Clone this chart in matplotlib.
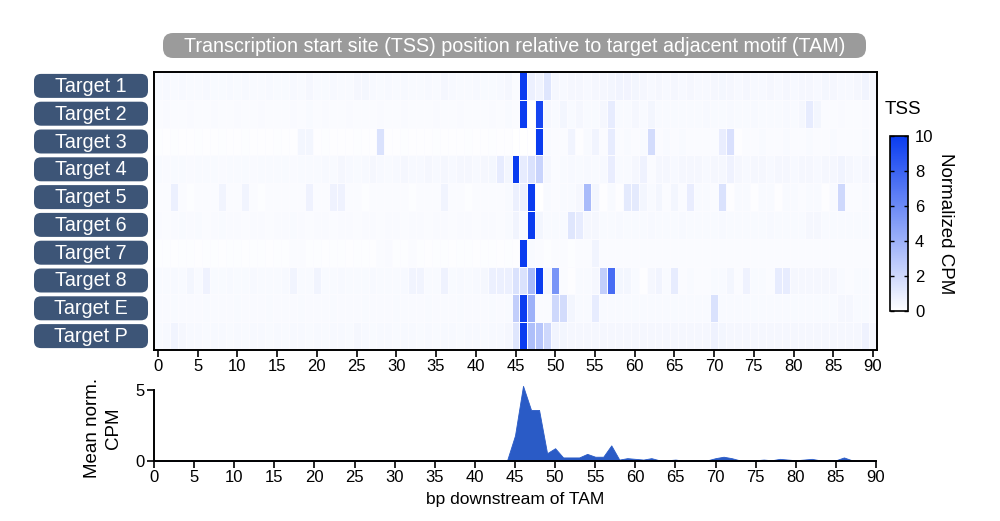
import matplotlib
matplotlib.use("Agg")
import matplotlib.pyplot as plt
import numpy as np
from matplotlib.colors import LinearSegmentedColormap
from matplotlib.patches import FancyBboxPatch

plt.rcParams["font.family"] = ["Liberation Sans", "DejaVu Sans"]

targets = ["Target 1", "Target 2", "Target 3", "Target 4", "Target 5",
           "Target 6", "Target 7", "Target 8", "Target E", "Target P"]
positions = list(range(0, 91))

# normalized CPM, one list per target, positions 0..90
t1 = [0.3, 0.35, 0.3, 0.35, 0.3, 0.3, 0.35, 0.3, 0.3, 0.35,
      0.3, 0.35, 0.3, 0.3, 0.35, 0.3, 0.3, 0.35, 0.3, 0.4,
      0.3, 0.3, 0.35, 0.3, 0.3, 0.4, 0.45, 0.35, 0.3, 0.35,
      0.3, 0.35, 0.3, 0.3, 0.35, 0.3, 0.4, 0.35, 0.3, 0.3,
      0.35, 0.3, 0.3, 0.35, 0.4, 0.2, 10, 0.8, 0.6, 1.3,
      0.4, 0.35, 0.4, 0.4, 0.35, 0.4, 0.4, 0.5, 0.6, 0.55,
      0.5, 0.4, 0.35, 0.4, 0.35, 0.4, 0.35, 0.4, 0.35, 0.35,
      0.4, 0.45, 0.4, 0.35, 0.4, 0.35, 0.35, 0.4, 0.35, 0.4,
      0.35, 0.4, 0.4, 0.35, 0.45, 0.4, 0.35, 0.35, 0.4, 0.6,
      0.4]
t2 = [0.2, 0.25, 0.2, 0.2, 0.25, 0.2, 0.2, 0.25, 0.2, 0.2,
      0.25, 0.2, 0.2, 0.25, 0.2, 0.2, 0.2, 0.25, 0.2, 0.3,
      0.2, 0.25, 0.2, 0.2, 0.25, 0.2, 0.2, 0.2, 0.25, 0.2,
      0.2, 0.25, 0.2, 0.2, 0.2, 0.25, 0.2, 0.2, 0.25, 0.2,
      0.2, 0.2, 0.25, 0.2, 0.3, 0.2, 10, 0.0, 9.5, 0.4,
      0.3, 0.5, 0.3, 0.4, 0.3, 0.3, 0.4, 1.0, 0.3, 0.3,
      0.4, 0.3, 0.5, 0.3, 0.3, 0.3, 0.3, 0.3, 0.3, 0.35,
      0.3, 0.3, 0.35, 0.3, 0.3, 0.35, 0.3, 0.3, 0.3, 0.35,
      0.3, 0.4, 1.0, 0.5, 0.2, 0.2, 0.25, 0.2, 0.2, 0.25,
      0.2]
t3 = [0.15, 0.1, 0.15, 0.1, 0.1, 0.15, 0.1, 0.1, 0.15, 0.1,
      0.1, 0.15, 0.1, 0.1, 0.1, 0.15, 0.1, 0.1, 0.5, 0.5,
      0.1, 0.15, 0.1, 0.1, 0.1, 0.15, 0.1, 0.1, 1.5, 0.1,
      0.1, 0.15, 0.1, 0.1, 0.1, 0.15, 0.1, 0.1, 0.1, 0.15,
      0.1, 0.1, 0.15, 0.1, 0.1, 0.0, 0.0, 0.0, 10, 0.3,
      0.2, 0.2, 0.6, 0.1, 0.3, 0.6, 0.2, 1.0, 0.2, 0.3,
      0.2, 0.3, 1.8, 0.2, 0.3, 0.2, 0.3, 0.2, 0.2, 0.2,
      0.2, 0.9, 1.6, 0.1, 0.2, 0.2, 0.3, 0.2, 0.2, 0.3,
      0.2, 0.2, 0.3, 0.2, 0.2, 0.3, 0.2, 0.2, 0.2, 0.3,
      0.2]
t4 = [0.3, 0.25, 0.3, 0.3, 0.25, 0.3, 0.3, 0.3, 0.25, 0.3,
      0.3, 0.3, 0.25, 0.3, 0.3, 0.3, 0.3, 0.25, 0.3, 0.3,
      0.3, 0.35, 0.3, 0.4, 0.35, 0.3, 0.35, 0.4, 0.35, 0.3,
      0.35, 0.4, 0.35, 0.35, 0.4, 0.35, 0.4, 0.35, 0.4, 0.4,
      0.35, 0.4, 0.45, 1.0, 0.5, 10, 1.0, 1.5, 2.2, 0.4,
      0.2, 0.3, 0.35, 0.3, 0.35, 0.3, 0.35, 0.9, 0.3, 0.3,
      0.4, 0.7, 0.2, 0.4, 0.4, 0.35, 0.4, 0.4, 0.4, 0.35,
      0.4, 0.4, 0.7, 0.4, 0.35, 0.4, 0.4, 0.35, 0.4, 0.4,
      0.35, 0.4, 0.4, 0.35, 0.4, 0.4, 0.6, 0.4, 0.35, 0.4,
      0.4]
t5 = [0.2, 0.2, 0.8, 0.2, 0.15, 0.2, 0.2, 0.2, 0.6, 0.2,
      0.2, 0.6, 0.2, 0.15, 0.2, 0.2, 0.2, 0.2, 0.2, 0.7,
      0.2, 0.2, 0.7, 0.7, 0.2, 0.2, 0.15, 0.2, 0.2, 0.2,
      0.2, 0.2, 0.15, 0.2, 0.2, 0.2, 0.6, 0.2, 0.2, 0.15,
      0.2, 0.2, 0.2, 0.2, 0.3, 0.8, 0.8, 10, 0.0, 0.3,
      0.2, 0.3, 0.3, 0.4, 3.5, 0.5, 0.1, 0.3, 0.1, 1.1,
      1.1, 0.5, 0.3, 0.5, 0.2, 0.5, 0.2, 0.9, 0.3, 0.3,
      0.2, 1.5, 0.1, 0.3, 0.3, 0.1, 0.3, 0.3, 0.1, 0.3,
      0.3, 0.2, 0.3, 0.3, 0.1, 0.3, 2.0, 0.2, 0.2, 0.3,
      0.3]
t6 = [0.25, 0.2, 0.25, 0.3, 0.25, 0.3, 0.2, 0.25, 0.3, 0.25,
      0.25, 0.2, 0.25, 0.25, 0.2, 0.25, 0.25, 0.3, 0.25, 0.2,
      0.25, 0.25, 0.2, 0.25, 0.25, 0.2, 0.25, 0.25, 0.2, 0.25,
      0.25, 0.2, 0.25, 0.25, 0.2, 0.25, 0.25, 0.2, 0.25, 0.25,
      0.2, 0.25, 0.25, 0.2, 0.3, 0.6, 0.3, 10, 0.5, 0.3,
      0.3, 0.3, 1.3, 1.0, 0.4, 0.4, 0.3, 0.3, 0.35, 0.3,
      0.3, 0.3, 0.35, 0.3, 0.3, 0.3, 0.35, 0.3, 0.3, 0.3,
      0.3, 0.35, 0.3, 0.3, 0.3, 0.3, 0.3, 0.35, 0.3, 0.3,
      0.3, 0.3, 0.4, 0.4, 0.3, 0.3, 0.3, 0.3, 0.3, 0.3,
      0.3]
t7 = [0.15, 0.15, 0.1, 0.15, 0.15, 0.1, 0.15, 0.15, 0.1, 0.15,
      0.15, 0.1, 0.15, 0.15, 0.1, 0.15, 0.15, 0.2, 0.2, 0.15,
      0.15, 0.1, 0.15, 0.15, 0.1, 0.15, 0.15, 0.1, 0.2, 0.25,
      0.15, 0.15, 0.2, 0.15, 0.1, 0.15, 0.15, 0.1, 0.15, 0.15,
      0.1, 0.15, 0.15, 0.1, 0.15, 0.1, 10, 0.3, 0.2, 0.15,
      0.2, 0.2, 0.15, 0.2, 0.2, 0.6, 0.2, 0.2, 0.2, 0.2,
      0.2, 0.2, 0.2, 0.2, 0.2, 0.2, 0.2, 0.2, 0.2, 0.2,
      0.2, 0.2, 0.2, 0.2, 0.2, 0.2, 0.2, 0.2, 0.2, 0.2,
      0.2, 0.2, 0.2, 0.2, 0.2, 0.2, 0.2, 0.2, 0.2, 0.2,
      0.2]
t8 = [0.3, 0.3, 0.35, 0.3, 0.5, 0.3, 0.7, 0.3, 0.3, 0.35,
      0.3, 0.3, 0.35, 0.3, 0.3, 0.3, 0.35, 0.6, 0.3, 0.3,
      0.6, 0.3, 0.3, 0.35, 0.3, 0.3, 0.3, 0.35, 0.3, 0.3,
      0.3, 0.35, 0.6, 0.6, 0.3, 0.3, 0.7, 0.3, 0.35, 0.3,
      0.35, 0.4, 0.8, 0.8, 0.8, 1.5, 1.5, 3.5, 10, 0.4,
      5.5, 0.2, 0.1, 0.3, 0.3, 0.4, 2.5, 7.5, 0.5, 0.5,
      0.3, 0.1, 0.4, 0.6, 0.3, 1.0, 0.2, 0.3, 0.2, 0.2,
      0.3, 0.3, 0.5, 0.2, 0.7, 0.3, 0.3, 0.2, 1.0, 1.0,
      0.4, 0.4, 0.4, 0.4, 0.4, 0.4, 0.3, 0.2, 0.3, 0.3,
      0.3]
tE = [0.25, 0.25, 0.3, 0.25, 0.25, 0.25, 0.3, 0.25, 0.25, 0.25,
      0.3, 0.25, 0.25, 0.25, 0.3, 0.25, 0.25, 0.25, 0.3, 0.25,
      0.25, 0.25, 0.3, 0.25, 0.25, 0.25, 0.3, 0.25, 0.25, 0.25,
      0.3, 0.25, 0.25, 0.25, 0.3, 0.25, 0.25, 0.25, 0.3, 0.25,
      0.25, 0.25, 0.3, 0.25, 0.3, 2.5, 10, 4.0, 0.2, 0.2,
      2.0, 1.8, 0.5, 0.3, 0.3, 1.0, 0.3, 0.3, 0.3, 0.3,
      0.3, 0.3, 0.3, 0.3, 0.3, 0.3, 0.3, 0.3, 0.3, 0.3,
      1.5, 0.3, 0.3, 0.3, 0.3, 0.3, 0.3, 0.3, 0.3, 0.3,
      0.3, 0.3, 0.3, 0.3, 0.3, 0.3, 0.4, 0.4, 0.3, 0.3,
      0.3]
tP = [0.3, 0.35, 0.6, 0.4, 0.35, 0.35, 0.3, 0.35, 0.35, 0.3,
      0.35, 0.3, 0.35, 0.35, 0.3, 0.35, 0.3, 0.35, 0.35, 0.3,
      0.35, 0.3, 0.35, 0.35, 0.3, 0.4, 0.35, 0.3, 0.35, 0.35,
      0.3, 0.35, 0.35, 0.3, 0.35, 0.3, 0.35, 0.35, 0.3, 0.35,
      0.35, 0.3, 0.35, 0.35, 0.4, 1.3, 10, 3.3, 3.0, 2.0,
      0.6, 0.5, 0.4, 0.4, 0.4, 0.4, 0.4, 0.4, 0.4, 0.4,
      0.4, 0.4, 0.4, 0.4, 0.4, 0.4, 0.4, 0.4, 0.4, 0.4,
      0.7, 0.5, 0.4, 0.4, 0.4, 0.4, 0.4, 0.4, 0.4, 0.4,
      0.4, 0.4, 0.4, 0.4, 0.4, 0.4, 0.4, 0.4, 0.4, 0.7,
      0.4]

# mean normalized CPM across targets
mean_cpm = [0.02] * 28 + [0.05] + [0.02] * 16 + [
    1.8, 5.3, 3.6, 3.6, 0.55, 0.9, 0.25, 0.25, 0.25, 0.5,
    0.3, 0.3, 1.1, 0.1, 0.2, 0.15, 0.1, 0.2, 0.05, 0.05,
    0.1, 0.02, 0.05, 0.05, 0.05, 0.2, 0.3, 0.2, 0.05, 0.02,
    0.05, 0.1, 0.05, 0.15, 0.1, 0.05, 0.1, 0.15, 0.05, 0.02,
    0.05, 0.25, 0.05, 0.02, 0.02, 0.02]

heat = np.array([t1, t2, t3, t4, t5, t6, t7, t8, tE, tP])
assert heat.shape == (10, 91) and len(mean_cpm) == 91

cmap = LinearSegmentedColormap.from_list("tss", ["#ffffff", "#0a3cf0"])
TICK_FS = 12
LABEL_FS = 13.5
BOX_FS = 14.2

fig = plt.figure(figsize=(10, 5.21), dpi=100)

# heatmap
ax = fig.add_axes([0.154, 0.3282, 0.723, 0.5336])
xe = np.arange(-0.5, 91, 1.0)
ye = np.arange(-0.5, 10, 1.0)
mesh = ax.pcolormesh(xe, ye, heat, cmap=cmap, vmin=0, vmax=10,
                     edgecolors="#fbfbff", linewidth=0.4)
ax.set_xlim(-0.5, 90.5)
ax.set_ylim(9.5, -0.5)
ax.set_yticks([])
ax.set_xticks(range(0, 91, 5))
ax.tick_params(axis="x", length=5, width=1.2, labelsize=TICK_FS, pad=1.5)
for s in ax.spines.values():
    s.set_linewidth(1.4)

# target label boxes
ax_top_px = 72
row_px = 278 / 10
for i, name in enumerate(targets):
    cy = (521 - (ax_top_px + (i + 0.5) * row_px)) / 100
    box = FancyBboxPatch((0.34, cy - 0.12), 1.14, 0.24,
                         boxstyle="round,pad=0,rounding_size=0.07",
                         transform=fig.dpi_scale_trans, fc="#3d5577", ec="none")
    fig.add_artist(box)
    fig.text(0.91, cy - 0.005, name, transform=fig.dpi_scale_trans, ha="center",
             va="center", color="white", fontsize=BOX_FS)

# title box
tbox = FancyBboxPatch((1.63, 4.63), 7.03, 0.25,
                      boxstyle="round,pad=0,rounding_size=0.1",
                      transform=fig.dpi_scale_trans, fc="#9b9b9b", ec="none")
fig.add_artist(tbox)
fig.text(5.145, 4.75,
         "Transcription start site (TSS) position relative to target adjacent motif (TAM)",
         transform=fig.dpi_scale_trans, ha="center", va="center",
         color="white", fontsize=BOX_FS)

# colorbar
cax = fig.add_axes([0.890, 0.403, 0.018, 0.336])
cb = fig.colorbar(mesh, cax=cax, ticks=range(0, 11, 2))
cb.outline.set_linewidth(1.2)
cax.tick_params(direction="in", left=True, right=True, length=3, width=1,
                labelsize=TICK_FS, pad=5)
cb.set_label("Normalized CPM", rotation=270, fontsize=LABEL_FS, labelpad=15)
fig.text(0.903, 0.789, "TSS", ha="center", va="center", fontsize=13.5)

# mean profile
axm = fig.add_axes([0.154, 0.1152, 0.722, 0.1497])
axm.fill_between(positions, 0, mean_cpm, color="#2a5bc6", lw=0.6)
axm.set_xlim(0, 90)
axm.set_ylim(0, 5.5)
axm.set_xticks(range(0, 91, 5))
axm.set_yticks([0, 5])
axm.spines["top"].set_visible(False)
axm.spines["right"].set_visible(False)
axm.spines["left"].set_bounds(0, 5)
for s in ("left", "bottom"):
    axm.spines[s].set_linewidth(1.4)
axm.tick_params(length=5, width=1.2, labelsize=TICK_FS, pad=1.5)
axm.set_ylabel("Mean norm.\nCPM", fontsize=LABEL_FS, labelpad=7, linespacing=1.3)
axm.yaxis.set_label_coords(-0.045, 0.42)
axm.set_xlabel("bp downstream of TAM", fontsize=12.5, labelpad=5)

fig.savefig("out.png", dpi=100)
